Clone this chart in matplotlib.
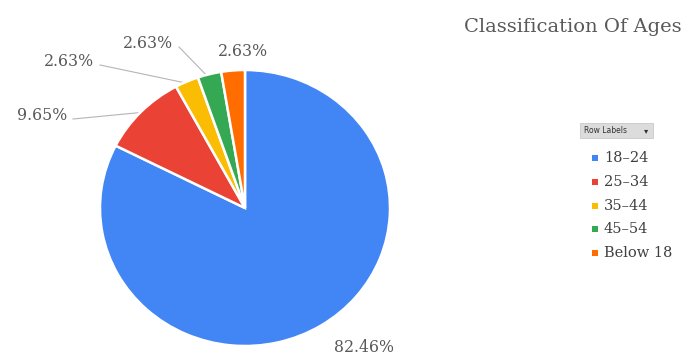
import numpy as np
import matplotlib
matplotlib.use("Agg")
import matplotlib.pyplot as plt
from matplotlib.patches import Rectangle

# data
categories = ["18\u201324", "25\u201334", "35\u201344", "45\u201354", "Below 18"]
shares = [82.46, 9.65, 2.63, 2.63, 2.63]
colors = ["#4285F4", "#EA4335", "#FBBC04", "#34A853", "#FF6D01"]

W, H = 688, 358
fig = plt.figure(figsize=(W / 100, H / 100), dpi=100)

# overlay axes in pixel coordinates (y measured from top)
ov = fig.add_axes([0, 0, 1, 1])
ov.set_xlim(0, W)
ov.set_ylim(H, 0)
ov.axis("off")

# pie axes (slightly stretched horizontally, like the source image)
cx, cy, rx, ry = 245, 208, 145, 138
pa = fig.add_axes([(cx - rx) / W, (H - cy - ry) / H, 2 * rx / W, 2 * ry / H])
wedges, _ = pa.pie(shares, colors=colors, startangle=90, counterclock=False,
                   radius=1, wedgeprops=dict(edgecolor="white", linewidth=1.8))
pa.set_aspect("auto")
pa.set_xlim(-1, 1)
pa.set_ylim(-1, 1)
pa.axis("off")

# labels (pixel positions of label text centers)
label_pos = [(364, 347), (42, 115), (69, 61), (148, 43), (243, 52)]
draw_line = [False, True, True, True, False]
lbl_font = dict(family="DejaVu Serif", size=11.3, color="#595959")
for w, s, (lx, ly), dl in zip(wedges, shares, label_pos, draw_line):
    mid = np.deg2rad((w.theta1 + w.theta2) / 2)
    ex = cx + rx * np.cos(mid)
    ey = cy - ry * np.sin(mid)
    ov.text(lx, ly, "%.2f%%" % s, ha="center", va="center", **lbl_font)
    if dl:
        ov.plot([lx + 31, ex - 3], [ly + 4, ey + 1], color="#b5b5b5", lw=0.8)

# title
ov.text(573, 27, "Classification Of Ages", ha="center", va="center",
        family="DejaVu Serif", size=14, color="#595959")

# legend header
ov.add_patch(Rectangle((580, 123), 73, 15, facecolor="#dcdcdc",
                       edgecolor="#c8c8c8", lw=0.6))
ov.text(584, 130.5, "Row Labels", ha="left", va="center",
        family="DejaVu Sans", size=5.5, color="#333333")
ov.text(646, 130.5, "\u25be", ha="center", va="center",
        family="DejaVu Sans", size=6, color="#333333")

# legend items
leg_y = [158, 182, 206, 229, 253]
for name, c, y in zip(categories, colors, leg_y):
    ov.add_patch(Rectangle((592, y - 3), 6, 6, facecolor=c, edgecolor="none"))
    ov.text(604, y, name, ha="left", va="center",
            family="DejaVu Serif", size=10.5, color="#404040")

fig.savefig("out.png", dpi=100)
